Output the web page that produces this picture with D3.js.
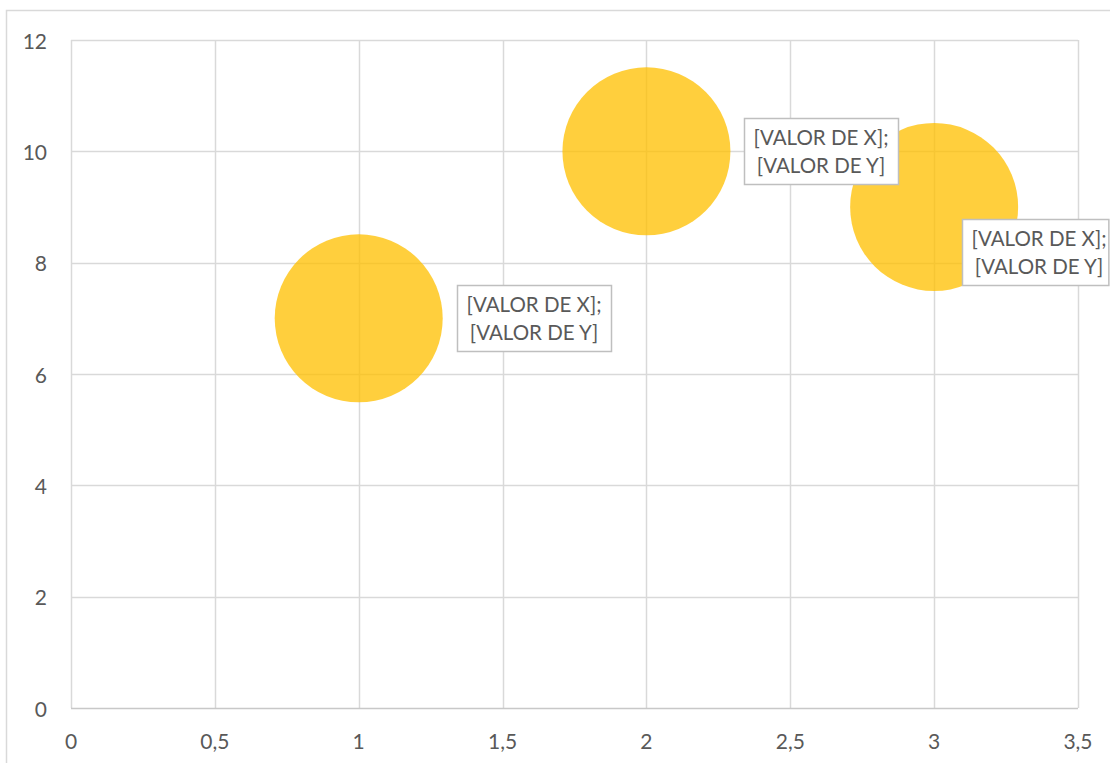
<!DOCTYPE html>
<html>
<head>
<meta charset="utf-8">
<script src="https://cdn.jsdelivr.net/npm/d3@7"></script>
<style>
  html, body { margin: 0; padding: 0; background: #fff; }
  svg { display: block; }
</style>
</head>
<body>
<svg id="chart" width="1110" height="763"></svg>
<script>
// Bubble series
const xValues = [1, 2, 3];
const yValues = [7, 10, 9];
const sizes = [1, 1, 1];
const labelLines = ["[VALOR DE X];", "[VALOR DE Y]"];

// Axis ticks
const xTicks = [0, 0.5, 1, 1.5, 2, 2.5, 3, 3.5];
const yTicks = [0, 2, 4, 6, 8, 10, 12];

const W = 1110, H = 763;
const plot = { left: 71, right: 1078, top: 40, bottom: 708 };
const font = "Lato, 'Open Sans', sans-serif";
const gridColor = "#d9d9d9";
const textColor = "#595959";

const svg = d3.select("#chart");

// Outer chart frame (extends past the view on the right and bottom)
svg.append("rect")
  .attr("x", 6.5).attr("y", 10.5)
  .attr("width", W + 10).attr("height", H + 10)
  .attr("fill", "#fff").attr("stroke", gridColor).attr("stroke-width", 1.5);

const x = d3.scaleLinear().domain([0, 3.5]).range([plot.left, plot.right]);
const y = d3.scaleLinear().domain([0, 12]).range([plot.bottom, plot.top]);
const r = d3.scaleSqrt().domain([0, 1]).range([0, 84]);

// Gridlines
const g = svg.append("g");
g.selectAll("line.v").data(xTicks).join("line")
  .attr("x1", d => Math.round(x(d)) + 0.5).attr("x2", d => Math.round(x(d)) + 0.5)
  .attr("y1", plot.top).attr("y2", plot.bottom)
  .attr("stroke", gridColor).attr("stroke-width", 1.5);
g.selectAll("line.h").data(yTicks).join("line")
  .attr("y1", d => Math.round(y(d)) + 0.5).attr("y2", d => Math.round(y(d)) + 0.5)
  .attr("x1", plot.left).attr("x2", plot.right)
  .attr("stroke", d => d === 0 ? "#c8c8c8" : gridColor).attr("stroke-width", 1.5);

// Tick labels
const fmt = d => String(d).replace(".", ",");
svg.append("g").selectAll("text").data(yTicks).join("text")
  .attr("x", 47).attr("y", d => y(d))
  .attr("text-anchor", "end").attr("dominant-baseline", "central")
  .attr("font-family", font).attr("font-size", 21).attr("fill", textColor)
  .text(fmt);
svg.append("g").selectAll("text").data(xTicks).join("text")
  .attr("x", d => x(d)).attr("y", 740)
  .attr("text-anchor", "middle").attr("dominant-baseline", "central")
  .attr("font-family", font).attr("font-size", 21).attr("fill", textColor)
  .text(fmt);

// Bubbles
const points = xValues.map((v, i) => ({ x: v, y: yValues[i], s: sizes[i] }));
svg.append("g").selectAll("circle").data(points).join("circle")
  .attr("cx", d => x(d.x)).attr("cy", d => y(d.y)).attr("r", d => r(d.s))
  .attr("fill", "#FFC000").attr("fill-opacity", 0.76);

// Data labels: placed to the right of each bubble, pulled back inside the frame when needed
const boxW = 154, boxH = 66;
const labels = svg.append("g");
points.forEach(d => {
  let bx = x(d.x) + r(d.s) + 14;
  let by = y(d.y) - boxH / 2;
  let w = boxW;
  if (bx + w > W - 1) {
    bx = x(d.x) + 28;
    w = W - 1.5 - bx;
    by += 45;
  }
  const lg = labels.append("g");
  lg.append("rect")
    .attr("x", Math.round(bx) + 0.5).attr("y", Math.round(by) + 0.5)
    .attr("width", w).attr("height", boxH)
    .attr("fill", "#fff").attr("stroke", "#bfbfbf").attr("stroke-width", 1.5);
  const cx = Math.round(bx) + (w < boxW ? 10 + 67 : w / 2);
  labelLines.forEach((t, i) => {
    lg.append("text")
      .attr("x", cx).attr("y", by + boxH / 2 + (i === 0 ? -14 : 14))
      .attr("text-anchor", "middle").attr("dominant-baseline", "central")
      .attr("font-family", font).attr("font-size", 20.5).attr("fill", textColor)
      .text(t);
  });
});
</script>
</body>
</html>
